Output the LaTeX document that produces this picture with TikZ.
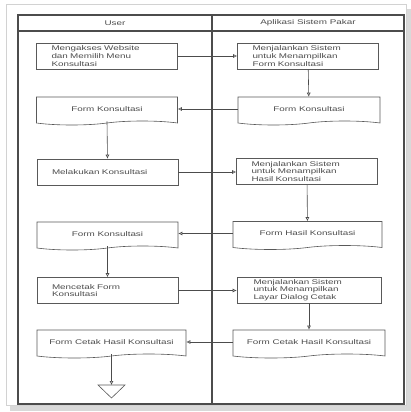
\documentclass[tikz,border=0pt]{standalone}
\usepackage{fontspec}
\setmainfont{Liberation Sans}[FakeStretch=1.45]
\usetikzlibrary{shapes.symbols,arrows.meta}

\tikzset{
  lane/.style={draw=black!70, line width=1.1pt},
  txt/.style={text=black!70, font=\fontsize{6.8}{7.6}\selectfont},
  procbox/.style={txt, draw=black!65, line width=0.6pt, rectangle, inner sep=0pt,
    minimum width=141pt, text width=111pt, minimum height=26pt, align=left},
  docbox/.style={txt, draw=black!65, line width=0.6pt, tape, tape bend top=none,
    tape bend height=4pt, inner sep=0pt, minimum width=#1, minimum height=28pt, align=center},
  docbox/.default=141pt,
  flow/.style={draw=black!70, line width=0.6pt, -{Latex[open,length=4pt,width=4pt]}}
}

\begin{document}
\begin{tikzpicture}[x=1pt,y=-1pt]
    \useasboundingbox (0,0) rectangle (411,412);

    % Frame and shadow
    \fill[gray!30] (10,9) rectangle (411,411);
    \filldraw[fill=white, draw=gray!35, line width=1pt] (6,5) rectangle (406,405);

    % Swimlanes
    \draw[lane] (18,15) rectangle (404,404);
    \draw[lane] (18,31) -- (404,31);
    \draw[lane] (212,15) -- (212,404);
    \node[txt] (hUser) at (115,23) {User};
    \node[txt] (hApp) at (308,23) {Aplikasi Sistem Pakar};

    % User lane
    \node[procbox] (L1) at (107,56) {Mengakses Website\\dan Memilih Menu\\Konsultasi};
    \node[docbox] (L2) at (107,109) {Form Konsultasi};
    \node[procbox] (L3) at (107.5,172) {Melakukan Konsultasi};
    \node[docbox] (L4) at (107.5,234) {Form Konsultasi};
    \node[procbox] (L5) at (107.5,290.5) {Mencetak Form\\Konsultasi};
    \node[docbox=149pt] (L6) at (111.5,342) {Form Cetak Hasil Konsultasi};

    % System lane
    \node[procbox] (R1) at (308,56) {Menjalankan Sistem\\untuk Menampilkan\\Form Konsultasi};
    \node[docbox=142pt] (R2) at (309,109) {Form Konsultasi};
    \node[procbox] (R3) at (307,171.5) {Menjalankan Sistem\\untuk Menampilkan\\Hasil Konsultasi};
    \node[docbox=149pt] (R4) at (307.5,233.5) {Form Hasil Konsultasi};
    \node[procbox, minimum width=144pt] (R5) at (309,290) {Menjalankan Sistem\\untuk Menampilkan\\Layar Dialog Cetak};
    \node[docbox=152pt] (R6) at (309,342) {Form Cetak Hasil Konsultasi};

    % End connector
    \draw[draw=black!65, line width=0.6pt] (98,385) -- (125,385) -- (111.5,398) -- cycle;
    \coordinate (stop) at (111.5,385);

    % Flows
    \draw[flow] (L1.east) -- (R1.west |- L1.east);
    \draw[flow] (R1) -- (R2);
    \draw[flow] (R2.west) -- (L2.east |- R2.west);
    \draw[flow] (L2.south) -- (L3.north);
    \draw[flow] (L3.east) -- (R3.west |- L3.east);
    \draw[flow] (R3) -- (R4);
    \draw[flow] (R4.west) -- (L4.east |- R4.west);
    \draw[flow] (L4.south) -- (L5.north);
    \draw[flow] (L5.east) -- (R5.west |- L5.east);
    \draw[flow] (R5) -- (R6);
    \draw[flow] (R6.west) -- (L6.east |- R6.west);
    \draw[flow] (L6.south) -- (stop);
\end{tikzpicture}
\end{document}
